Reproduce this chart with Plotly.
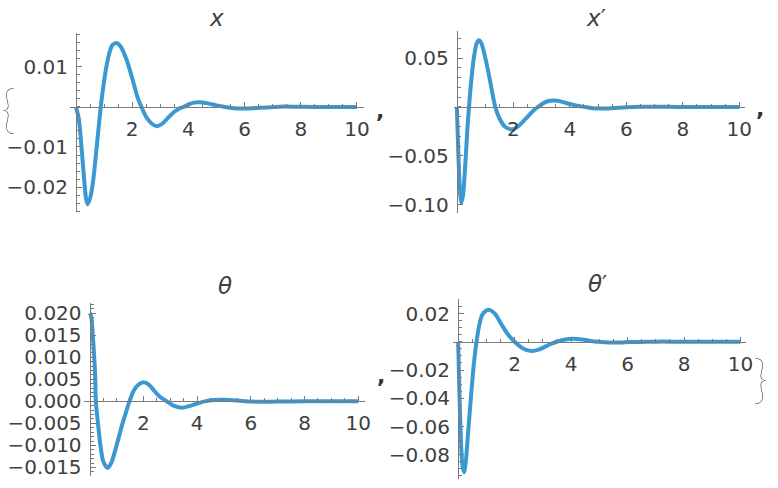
import numpy as np
import plotly.graph_objects as go

W, H = 778, 488

# ---- data ----
x_t = [0, 0.1, 0.2, 0.3, 0.35, 0.41, 0.5, 0.6, 0.7, 0.8, 0.88, 1.0, 1.1, 1.2, 1.3, 1.45, 1.6, 1.8, 2.0, 2.2,
       2.33, 2.5, 2.7, 2.88, 3.1, 3.3, 3.5, 3.7, 3.82, 4.0, 4.2, 4.41, 4.7, 5.0, 5.3, 5.6, 5.9, 6.3, 6.8,
       7.4, 8.0, 9.0, 10.0]
x_v = [0, -0.003, -0.0105, -0.019, -0.0225, -0.0243, -0.0228, -0.019, -0.0125, -0.0055, 0.0, 0.0065, 0.0108,
       0.0138, 0.0155, 0.0160, 0.0150, 0.0118, 0.0072, 0.0022, 0.0, -0.0025, -0.0042, -0.0048, -0.0040,
       -0.0025, -0.0012, -0.0003, 0.0, 0.0006, 0.0011, 0.0012, 0.0009, 0.0004, 0.0, -0.0003, -0.0004,
       -0.0003, -0.0001, 0.0001, 0.00005, 0.0, 0.0]

xd_t = [0, 0.05, 0.1, 0.16, 0.22, 0.3, 0.37, 0.43, 0.5, 0.6, 0.7, 0.78, 0.87, 1.0, 1.1, 1.2, 1.36, 1.5, 1.7,
        1.94, 2.2, 2.5, 2.7, 2.87, 3.1, 3.3, 3.46, 3.7, 4.0, 4.3, 4.56, 4.8, 5.1, 5.5, 6.0, 6.5, 7.0, 7.5,
        8.0, 9.0, 10.0]
xd_v = [0, -0.045, -0.08, -0.0977, -0.090, -0.058, -0.024, 0.0, 0.024, 0.050, 0.065, 0.0683, 0.065, 0.051,
        0.038, 0.023, 0.0, -0.011, -0.020, -0.0229, -0.019, -0.010, -0.004, 0.0, 0.0045, 0.0063, 0.0067,
        0.0055, 0.0030, 0.0010, 0.0, -0.0012, -0.0016, -0.0012, -0.0003, 0.0002, 0.0003, 0.0002, 0.0, 0.0,
        0.0]

th_t = [0, 0.05, 0.1, 0.15, 0.2, 0.23, 0.3, 0.4, 0.5, 0.66, 0.8, 1.0, 1.2, 1.35, 1.48, 1.65, 1.8, 2.01, 2.2,
        2.4, 2.6, 2.87, 3.1, 3.42, 3.7, 4.0, 4.29, 4.6, 5.03, 5.5, 6.0, 6.5, 7.0, 8.0, 9.0, 10.0]
th_v = [0.020, 0.0194, 0.0165, 0.0118, 0.0065, 0.0, -0.0045, -0.0100, -0.0135, -0.0151, -0.0140, -0.0100,
        -0.0055, -0.0025, 0.0, 0.0025, 0.0037, 0.00432, 0.0038, 0.0024, 0.0011, 0.0, -0.0009, -0.00143,
        -0.0011, -0.0005, 0.0, 0.0003, 0.00036, 0.0002, -0.00005, -0.0001, -0.00005, 0.0, 0.0, 0.0]

thd_t = [0, 0.05, 0.1, 0.15, 0.21, 0.27, 0.35, 0.45, 0.55, 0.65, 0.75, 0.85, 1.0, 1.11, 1.3, 1.5, 1.75, 2.0,
         2.2, 2.4, 2.61, 2.85, 3.1, 3.3, 3.49, 3.75, 4.07, 4.4, 4.7, 4.95, 5.2, 5.5, 5.9, 6.4, 7.0, 7.5, 8.0,
         9.0, 10.0]
thd_v = [0, -0.040, -0.070, -0.087, -0.0923, -0.085, -0.065, -0.040, -0.017, 0.0, 0.012, 0.019, 0.0222,
         0.0226, 0.020, 0.0135, 0.0055, 0.0, -0.0035, -0.0058, -0.0065, -0.0055, -0.0033, -0.0014, 0.0,
         0.0014, 0.0021, 0.0016, 0.0006, 0.0, -0.0004, -0.0006, -0.0004, -0.0001, 0.0001, 0.0001, 0.0, 0.0,
         0.0]

x_ticks = [2, 4, 6, 8, 10]
titles = ["<i>x</i>", "<i>x</i>′", "<i>θ</i>", "<i>θ</i>′"]
y_ticks = [
    [-0.02, -0.01, 0.01],
    [-0.10, -0.05, 0.05],
    [-0.015, -0.010, -0.005, 0.0, 0.005, 0.010, 0.015, 0.020],
    [-0.08, -0.06, -0.04, -0.02, 0.02],
]
y_ticktext = [
    ["−0.02", "−0.01", "0.01"],
    ["−0.10", "−0.05", "0.05"],
    ["−0.015", "−0.010", "−0.005", "0.000", "0.005", "0.010", "0.015", "0.020"],
    ["−0.08", "−0.06", "−0.04", "−0.02", "0.02"],
]
y_minor = [0.002, 0.01, 0.001, 0.005]
series = [(x_t, x_v), (xd_t, xd_v), (th_t, th_v), (thd_t, thd_v)]

# ---- layout geometry (pixels) ----
geo = [
    dict(left=71, right=367, t0=76.7, ppx=28.35, top=31.7, bottom=213, y0=106.3, ppy=4050, title=(218, 16)),
    dict(left=458.3, right=751.7, t0=461, ppx=28.5, top=29.3, bottom=213.3, y0=106.3, ppy=990, title=(601, 16)),
    dict(left=85, right=368, t0=90.5, ppx=27.1, top=305, bottom=480, y0=404.3, ppy=4465, title=(227, 288)),
    dict(left=456.7, right=752.7, t0=462.3, ppx=28.5, top=300.7, bottom=483.3, y0=344, ppy=1430, title=(603, 286)),
]

LINE = "#3a98d2"
AX = "#7a7a7a"
TXT = "#404040"
FONT = "DejaVu Sans"

fig = go.Figure()
annotations = []
for i, (g, (tt, vv)) in enumerate(zip(geo, series)):
    n = "" if i == 0 else str(i + 1)
    fig.add_trace(go.Scatter(x=tt, y=vv, mode="lines", xaxis="x" + n, yaxis="y" + n,
                             line=dict(color=LINE, width=4, shape="spline", smoothing=0.8),
                             showlegend=False, hoverinfo="skip"))
    xr = [(g["left"] - g["t0"]) / g["ppx"], (g["right"] - g["t0"]) / g["ppx"]]
    yr = [-(g["bottom"] - g["y0"]) / g["ppy"], (g["y0"] - g["top"]) / g["ppy"]]
    ymin_minor = np.arange(np.ceil(yr[0] / y_minor[i]), np.floor(yr[1] / y_minor[i]) + 1) * y_minor[i]
    fig.layout["xaxis" + n] = dict(
        domain=[g["left"] / W, g["right"] / W], range=xr, anchor="free",
        position=1 - g["y0"] / H, showline=True, linecolor=AX, linewidth=1.2,
        showgrid=False, zeroline=False, ticks="inside", ticklen=5, tickcolor=AX, tickwidth=1,
        tickmode="array", tickvals=x_ticks, ticktext=[str(v) for v in x_ticks],
        tickfont=dict(family=FONT, size=20, color=TXT), ticklabelstandoff=4,
        minor=dict(tickmode="array", tickvals=list(np.arange(0.5, 10.01, 0.5)), ticks="inside",
                   ticklen=3, tickcolor=AX, tickwidth=1),
    )
    fig.layout["yaxis" + n] = dict(
        domain=[1 - g["bottom"] / H, 1 - g["top"] / H], range=yr, anchor="free",
        position=g["t0"] / W, showline=True, linecolor=AX, linewidth=1.2,
        showgrid=False, zeroline=False, ticks="inside", ticklen=5, tickcolor=AX, tickwidth=1,
        tickmode="array", tickvals=y_ticks[i], ticktext=y_ticktext[i],
        tickfont=dict(family=FONT, size=20, color=TXT), ticklabelstandoff=4,
        minor=dict(tickmode="array", tickvals=list(ymin_minor), ticks="inside",
                   ticklen=3, tickcolor=AX, tickwidth=1),
    )
    annotations.append(dict(text=titles[i], x=g["title"][0] / W, y=1 - g["title"][1] / H,
                            xref="paper", yref="paper", showarrow=False, xanchor="center",
                            yanchor="middle", font=dict(family=FONT, size=23, color=TXT)))

# list punctuation around the plots
punct = [("{", 8.5, 106, 52, "Lato", 100), ("}", 767, 380, 52, "Lato", 100),
         (",", 383, 110, 22, FONT, 700), (",", 767, 108, 22, FONT, 700), (",", 384, 378, 22, FONT, 700)]
for s, px, py, sz, fam, wt in punct:
    annotations.append(dict(text=s, x=px / W, y=1 - py / H, xref="paper", yref="paper",
                            showarrow=False, xanchor="center", yanchor="middle",
                            font=dict(family=fam, size=sz, color="#333333", weight=wt)))

fig.update_layout(width=W, height=H, margin=dict(l=0, r=0, t=0, b=0),
                  paper_bgcolor="white", plot_bgcolor="white", annotations=annotations)
fig.write_html("out.html", config={"displayModeBar": False},
               post_script="document.body.style.margin='0px';")
